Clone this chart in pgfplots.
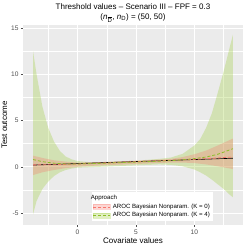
\documentclass[border=0pt]{standalone}
\usepackage{pgfplots}
\pgfplotsset{compat=1.18}
\usepackage{fontspec}
\setmainfont{Liberation Sans}
\definecolor{bggray}{HTML}{EBEBEB}
\definecolor{ggred}{HTML}{F8766D}
\definecolor{gggreen}{HTML}{9ACD32}
\definecolor{gggreenl}{HTML}{8CBF26}
\definecolor{ticklab}{HTML}{4D4D4D}
\begin{document}
\begin{tikzpicture}
\begin{axis}[
  at={(23pt,20pt)}, anchor=south west,
  scale only axis, width=220pt, height=200pt,
  xmin=-4.66, xmax=14.16, ymin=-6.3, ymax=15.33,
  xtick={0,5,10}, ytick={-5,0,5,10,15},
  minor xtick={-2.5,2.5,7.5,12.5}, minor ytick={-2.5,2.5,7.5,12.5},
  grid=both,
  major grid style={white, line width=0.55pt},
  minor grid style={white, line width=0.3pt},
  axis background/.style={fill=bggray},
  axis line style={draw=none},
  tick align=outside, tick pos=left,
  major tick length=2pt, minor tick length=0pt,
  tick style={draw=ticklab, line width=0.4pt},
  tick label style={font=\fontsize{6.6}{7}\selectfont, text=ticklab},
  /pgf/number format/assume math mode=true,
  xticklabel style={yshift=1pt},
  yticklabel style={xshift=1pt},
  xlabel={Covariate values}, ylabel={Test outcome},
  label style={font=\fontsize{8}{9}\selectfont},
  xlabel style={yshift=3pt},
  ylabel style={yshift=-3pt},
  title={Threshold values -- Scenario III -- FPF = 0.3\\({\itshape n}\textsubscript{$\overline{\mbox{D}}$}, {\itshape n}\textsubscript{D}) = (50, 50)},
  title style={at={(0.5,1)}, anchor=south, inner sep=0pt, yshift=-4pt,
    align=center, font=\fontsize{8}{10}\selectfont},
  legend style={at={(rel axis cs:0.312,0.0165)}, anchor=south west,
    font=\fontsize{6.1}{6.8}\selectfont, draw=none, fill=white,
    inner sep=1.2pt, row sep=-1.5pt, cells={anchor=west}},
  legend cell align=left,
]
% K=4 band
\addplot[fill=gggreen, fill opacity=0.3, draw=none, forget plot] coordinates {
(-3.8,12.5)(-3.5,10.0)(-3,6.5)(-2.5,4.2)(-2,2.7)(-1.5,1.7)(-1,1.1)(-0.5,0.8)(0,0.62)(1,0.5)(2,0.5)(3,0.55)(4,0.6)(5,0.65)(6,0.75)(7,0.85)(8,1.0)(9,1.4)(10,2.3)(10.5,3.0)(11,4.2)(11.5,5.8)(12,8.0)(12.5,10.3)(13,12.8)(13.3,14.3)
(13.3,-3.3)(13,-3.0)(12.5,-2.4)(12,-1.9)(11.5,-1.4)(11,-0.95)(10.5,-0.6)(10,-0.3)(9,0.05)(8,0.2)(7,0.25)(6,0.2)(5,0.15)(4,0.1)(3,0.05)(2,0.0)(1,-0.05)(0,-0.1)(-0.5,-0.2)(-1,-0.35)(-1.5,-0.6)(-2,-1.0)(-2.5,-1.6)(-3,-2.4)(-3.5,-3.7)(-3.8,-5.15)
} -- cycle;
% K=0 band
\addplot[fill=ggred, fill opacity=0.3, draw=none, forget plot] coordinates {
(-3.8,1.2)(-3,0.95)(-2,0.7)(-1,0.55)(0,0.45)(2,0.5)(4,0.6)(6,0.7)(8,0.85)(9,1.05)(10,1.35)(11,1.75)(12,2.3)(13.3,3.05)
(13.3,-0.25)(12,0.05)(11,0.25)(10,0.4)(9,0.45)(8,0.45)(6,0.35)(4,0.25)(2,0.15)(0,0.0)(-1,-0.15)(-2,-0.35)(-3,-0.6)(-3.8,-0.9)
} -- cycle;
% true
\addplot[black, line width=0.6pt, forget plot] coordinates {(-3.8,0.18)(13.3,0.92)};
% K=0 estimate
\addplot[ggred, line width=0.8pt, dash pattern=on 3pt off 2pt, forget plot] coordinates {
(-3.8,0.2)(-2,0.22)(0,0.3)(4,0.5)(8,0.7)(10,0.8)(12,0.95)(13.3,1.05)};
% K=4 estimate
\addplot[gggreenl, line width=0.8pt, dash pattern=on 3pt off 2pt, forget plot] coordinates {
(-3.8,0.78)(-3,0.55)(-2,0.38)(-1,0.3)(0,0.3)(2,0.37)(4,0.46)(6,0.55)(8,0.66)(9,0.75)(10,0.88)(11,1.05)(12,1.35)(13.3,1.95)};
\addlegendimage{empty legend}
\addlegendentry{\hspace{-22pt}Approach}
\addlegendimage{legend image code/.code={
  \fill[ggred, opacity=0.3] (0pt,-2.5pt) rectangle (17pt,2.5pt);
  \draw[ggred, line width=0.8pt, dash pattern=on 3pt off 2pt] (0pt,0pt) -- (17pt,0pt);}}
\addlegendentry{AROC Bayesian Nonparam. (K = 0)}
\addlegendimage{legend image code/.code={
  \fill[gggreen, opacity=0.3] (0pt,-2.5pt) rectangle (17pt,2.5pt);
  \draw[gggreenl, line width=0.8pt, dash pattern=on 3pt off 2pt] (0pt,0pt) -- (17pt,0pt);}}
\addlegendentry{AROC Bayesian Nonparam. (K = 4)}
\end{axis}
\pgfresetboundingbox
\path[use as bounding box] (0,0) rectangle (245pt,245pt);
\end{tikzpicture}
\end{document}
